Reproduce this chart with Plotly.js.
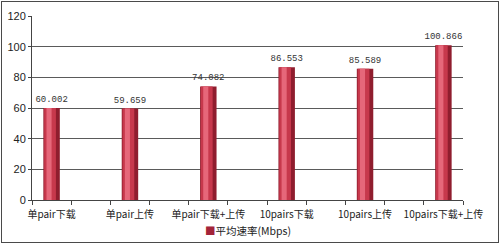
<!DOCTYPE html>
<html>
<head>
<meta charset="utf-8">
<script src="https://cdn.plot.ly/plotly-3.0.1.min.js"></script>
<style>
  html, body { margin: 0; padding: 0; background: #fff; }
  #wrap { position: relative; width: 500px; height: 244px; }
  #chart { width: 500px; height: 244px; }
  #frame { position: absolute; left: 1px; top: 1px; width: 498px; height: 242px;
           box-sizing: border-box; border: 1px solid #4a4a4a; pointer-events: none; }
</style>
</head>
<body>
<div id="wrap"><div id="chart"></div><div id="frame"></div></div>
<script>
// Data
const categories = ["单pair下载", "单pair上传", "单pair下载+上传", "10pairs下载", "10pairs上传", "10pairs下载+上传"];
const speeds = [60.002, 59.659, 74.082, 86.553, 85.589, 100.866];
const seriesName = "平均速率(Mbps)";
const yTicks = [0, 20, 40, 60, 80, 100, 120];

// Each category sits in every other slot (blank slot between them)
const xPos = categories.map((c, i) => i * 2);
const boundaries = [];
for (let b = -0.5; b <= xPos[xPos.length - 1] + 0.5; b += 1) boundaries.push(b);
const labels = speeds.map(v => v.toFixed(3));

const cjk = "'Noto Sans CJK SC', 'Noto Sans', sans-serif";

const base = {
  type: "bar", x: xPos, y: speeds, name: seriesName, width: 0.42,
  marker: { color: "#8f1d2e", line: { width: 0 } },
  text: labels, textposition: "outside", cliponaxis: false, constraintext: "none",
  textfont: { family: "'Liberation Mono', 'DejaVu Sans Mono', monospace", size: 9, color: "#333" },
  hoverinfo: "skip", showlegend: false
};
const mid = {
  type: "bar", x: xPos, y: speeds, width: 0.30, offset: -0.19,
  marker: { color: "#c7384c", line: { width: 0 } },
  hoverinfo: "skip", showlegend: false
};
const hi = {
  type: "bar", x: xPos, y: speeds, width: 0.13, offset: -0.13,
  marker: { color: "#e6677a", line: { width: 0 } },
  hoverinfo: "skip", showlegend: false
};

const layout = {
  width: 500, height: 244,
  margin: { l: 32, r: 37, t: 16, b: 44 },
  paper_bgcolor: "#fff", plot_bgcolor: "#fff",
  barmode: "overlay",
  showlegend: false,
  annotations: [{
    xref: "paper", yref: "paper", x: 0.5, y: -0.165, xanchor: "center", yanchor: "middle",
    showarrow: false,
    text: "<span style='color:#a3243a'>■</span>" + seriesName,
    font: { family: cjk, size: 10.5, color: "#222" }
  }],
  xaxis: {
    range: [-0.5, xPos[xPos.length - 1] + 0.5],
    tickmode: "array", tickvals: xPos, ticktext: categories,
    ticks: "", showgrid: false, zeroline: false,
    showline: true, linecolor: "#444", linewidth: 1,
    tickfont: { family: cjk, size: 10, color: "#222" },
    ticklabelstandoff: 5,
    minor: { tickmode: "array", tickvals: boundaries, ticks: "outside", ticklen: 4, tickcolor: "#444", showgrid: false },
    fixedrange: true
  },
  yaxis: {
    range: [0, 120], tickmode: "array", tickvals: yTicks,
    ticks: "outside", ticklen: 3, tickcolor: "#444",
    showgrid: true, gridcolor: "#5a5a5a", gridwidth: 1,
    zeroline: false, showline: true, linecolor: "#444", linewidth: 1,
    tickfont: { family: "'Liberation Sans', Arial, sans-serif", size: 11, color: "#222" },
    fixedrange: true
  }
};

Plotly.newPlot("chart", [base, mid, hi], layout, { displayModeBar: false, staticPlot: true });
</script>
</body>
</html>
